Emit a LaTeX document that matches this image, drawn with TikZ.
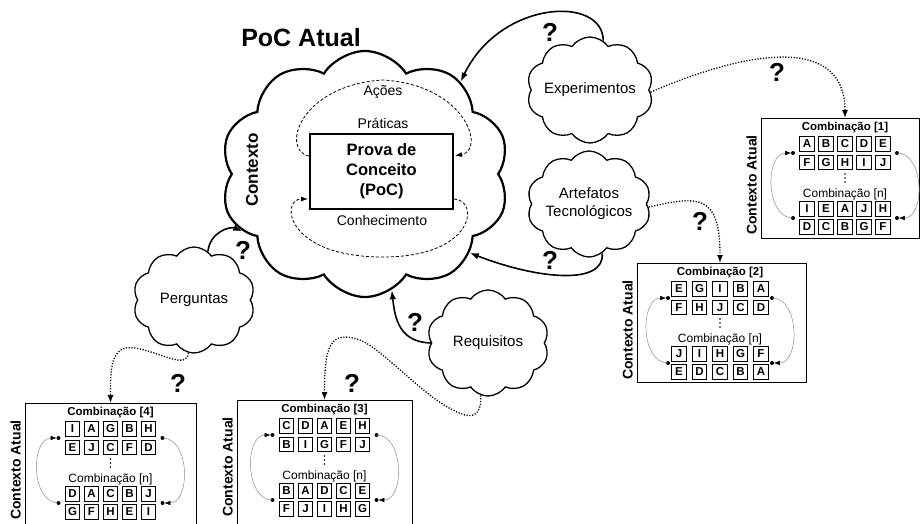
\documentclass[tikz,border=0pt]{standalone}
\usepackage{fontspec}
\setmainfont{Liberation Sans}
\usetikzlibrary{shapes.symbols,arrows.meta,calc}

\tikzset{
  titletext/.style={font=\bfseries\fontsize{25}{28}\selectfont, inner sep=0pt},
  bigcloud/.style={cloud, draw, line width=2.2pt, cloud puffs=10, cloud puff arc=115,
    cloud ignores aspect, minimum width=289pt, minimum height=246pt, inner sep=0pt},
  smallcloud/.style={cloud, draw, line width=1.3pt, cloud puffs=10, cloud puff arc=110,
    cloud ignores aspect, minimum width=122pt, minimum height=106pt, inner sep=0pt,
    align=center, font=\fontsize{15}{18}\selectfont},
  pocbox/.style={draw, line width=2pt, minimum width=143pt, minimum height=75pt,
    align=center, font=\bfseries\fontsize{16.5}{20}\selectfont},
  innertext/.style={font=\fontsize{14}{16}\selectfont, inner sep=0pt},
  ctxbig/.style={rotate=90, font=\bfseries\fontsize{17}{19}\selectfont, inner sep=0pt},
  qmark/.style={font=\bfseries\fontsize{26}{28}\selectfont, inner sep=0pt},
  flow/.style={line width=1.6pt, -{Latex[length=9pt,width=6.5pt]}},
  dotflow/.style={line width=1.3pt, dash pattern=on 1.2pt off 1.6pt,
    -{Latex[length=8pt,width=6pt]}},
  loopdash/.style={line width=0.8pt, dash pattern=on 3pt off 2pt,
    -{Latex[length=7pt,width=5pt]}, shorten >=1pt},
  panelbox/.style={draw, line width=1pt, inner sep=0pt},
  ctxlabel/.style={rotate=90, font=\bfseries\fontsize{14}{16}\selectfont, inner sep=0pt},
  combhead/.style={font=\bfseries\fontsize{11.5}{13}\selectfont, inner sep=0pt},
  combtail/.style={font=\fontsize{12}{13}\selectfont, inner sep=0pt},
  letterbox/.style={draw, line width=0.7pt, minimum size=14.5pt, inner sep=0pt,
    font=\bfseries\fontsize{11.5}{12}\selectfont},
  swapline/.style={draw=black!45, line width=0.5pt,
    -{Latex[black,length=6pt,width=4.5pt]}, shorten >=1.8pt},
}

% One "Contexto Atual" panel:
% #1 name, #2 column centre x, #3 top y, #4 left x, #5 right x, #6 bottom y,
% #7 combination number, #8 letter rows, #9 column pitch
\newcommand\combpanel[9]{%
  \node[panelbox, anchor=north west, minimum width={(#5-#4)*1pt},
    minimum height={(#6-#3)*1pt}] (#1) at (#4,#3) {};
  \coordinate (#1-in) at (#2,#3);
  \node[ctxlabel] (#1-lab) at ({#4-9.5},{#3+67}) {Contexto Atual};
  \node[combhead] (#1-t1) at (#2,{#3+10}) {Combinação [#7]};
  \node[combtail] (#1-t2) at (#2,{#3+76}) {Combinação [n]};
  \foreach \d in {56,60,64} {\fill ({#2},{#3+\d}) circle (0.9pt);}
  \foreach \row [count=\r] in {#8} {
    \pgfmathsetmacro\ry{{26,44.5,91,109}[\r-1]}
    \foreach \l [count=\c] in \row {
      \node[letterbox] (#1-\r-\c) at ({#2+(\c-3)*#9},{#3+\ry}) {\l};
    }
  }
  \coordinate (#1-lt) at ({#2-52},{#3+35});
  \coordinate (#1-lb) at ({#2-52},{#3+100});
  \coordinate (#1-rt) at ({#2+52},{#3+35});
  \coordinate (#1-rb) at ({#2+52},{#3+100});
  \foreach \p in {lt,lb,rt,rb} {\fill (#1-\p) circle (2pt);}
  \draw[swapline] (#1-lb) .. controls +(-28,0) and +(-28,0) .. (#1-lt);
  \draw[swapline] (#1-rt) .. controls +(28,0) and +(28,0) .. (#1-rb);
}

\begin{document}
\begin{tikzpicture}[x=1pt,y=-1pt]
\useasboundingbox (0,0) rectangle (921,523);
\clip (0,0) rectangle (921,523);

% central cloud with the proof of concept
\node[titletext] (title) at (301,38) {PoC Atual};
\node[bigcloud] (poc) at (365,174) {};
\node[pocbox] (box) at (381.5,171.5) {Prova de\\Conceito\\(PoC)};
\node[innertext] (acoes) at (383,92) {Ações};
\node[innertext] (prat) at (383,123) {Práticas};
\node[innertext] (conh) at (382,220) {Conhecimento};
\node[ctxbig] (ctx) at (252,170) {Contexto};

\draw[loopdash] ($(box.west)+(0,-15.5)$) .. controls (280,150) and (300,85) .. (383,80)
  .. controls (466,85) and (486,150) .. ($(box.east)+(0,-15.5)$);
\draw[loopdash] ($(box.east)+(0,27.5)$) .. controls (480,200) and (475,257) .. (383,257)
  .. controls (285,257) and (280,199) .. ($(box.west)+(0,27.5)$);

% surrounding clouds
\node[smallcloud] (exp) at (590,90) {Experimentos};
\node[smallcloud] (art) at (589,204) {Artefatos\\Tecnológicos};
\node[smallcloud] (per) at (194,300) {Perguntas};
\node[smallcloud] (req) at (488,343) {Requisitos};

% current-context panels
\combpanel{p1}{845}{118}{761}{919}{238}{1}%
  {{A,B,C,D,E},{F,G,H,I,J},{I,E,A,J,H},{D,C,B,G,F}}{19}
\combpanel{p2}{720}{263}{637}{806}{382}{2}%
  {{E,G,I,B,A},{F,H,J,C,D},{J,I,H,G,F},{E,D,C,B,A}}{20.5}
\combpanel{p3}{324.5}{400}{237}{412}{535}{3}%
  {{C,D,A,E,H},{B,I,G,F,J},{B,A,D,C,E},{F,J,I,H,G}}{19}
\combpanel{p4}{110.5}{403}{25}{196}{535}{4}%
  {{I,A,G,B,H},{E,J,C,F,D},{D,A,C,B,J},{G,F,H,E,I}}{19}

% feedback into the current PoC
\draw[flow] (exp.75) .. controls (603,-5) and (500,0) .. (poc.44);
\draw[flow] (art.-75) .. controls (605,285) and (540,280) .. (poc.-37);
\draw[flow] (per.74) .. controls (210,232) and (230,226) .. (poc.205);
\draw[flow] (req.180) .. controls (400,342) and (395,320) .. (poc.-77);

% links to the combination panels
\draw[dotflow] (exp.-2) .. controls (760,45) and (845,40) .. (p1-in);
\draw[dotflow] (art.-3) .. controls (700,195) and (720,195) .. (p2-in);
\draw[dotflow] (per.-96) .. controls (187,370) and (160,352) .. (135,348)
  .. controls (110,344) and (110.5,370) .. (p4-in);
\draw[dotflow] (req.-98) .. controls (482,410) and (476,418) .. (465,415)
  .. controls (430,405) and (385,350) .. (360,340)
  .. controls (330,330) and (324.5,345) .. (p3-in);

% question marks
\node[qmark] (q1) at (550,32) {?};
\node[qmark] (q2) at (777,72) {?};
\node[qmark] (q3) at (550,260) {?};
\node[qmark] (q4) at (700,221) {?};
\node[qmark] (q5) at (243,250) {?};
\node[qmark] (q6) at (178,383) {?};
\node[qmark] (q7) at (415,322) {?};
\node[qmark] (q8) at (352,383) {?};
\end{tikzpicture}
\end{document}
